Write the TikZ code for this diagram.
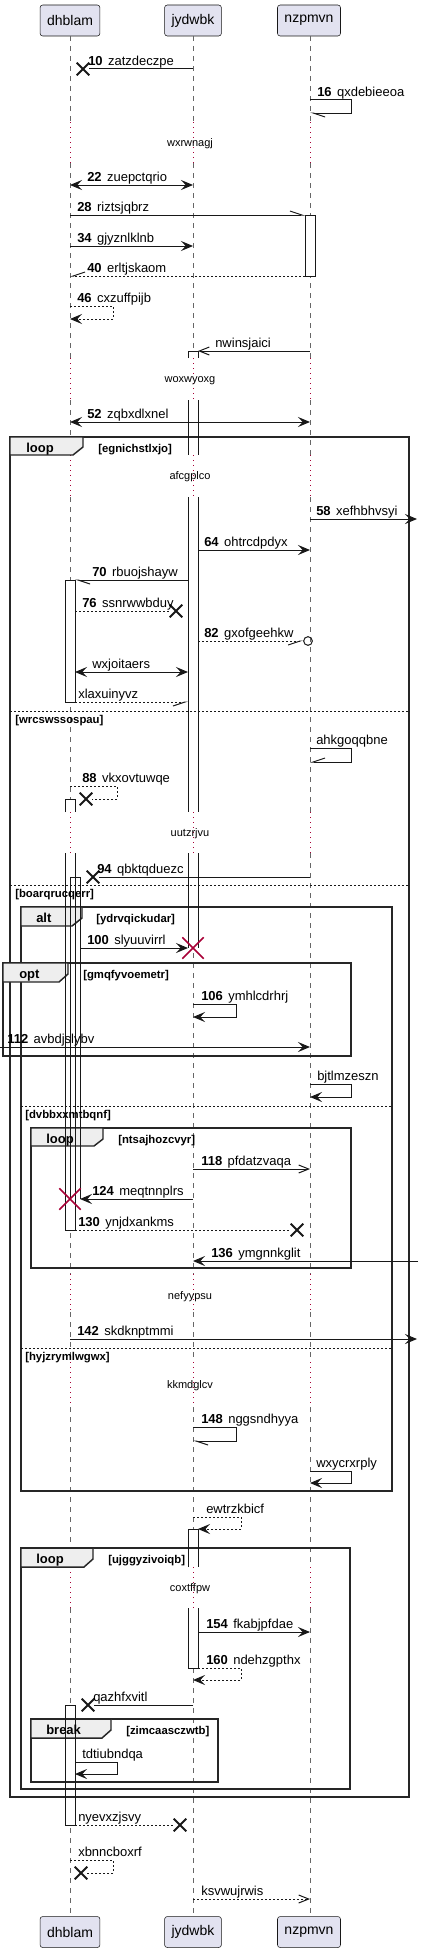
\documentclass[tikz,border=0pt]{standalone}
\usepackage{fontspec}
\setmainfont{Liberation Sans}
\usepackage{tikz}
\usetikzlibrary{arrows.meta,shapes.misc}
\definecolor{ptfill}{HTML}{E2E2F0}
\definecolor{tabgray}{HTML}{EEEEEE}
\definecolor{killred}{HTML}{A80036}
\definecolor{ink}{HTML}{181818}
\newcommand{\seqno}[1]{\textbf{#1}\hspace{4pt}}
\tikzstyle{actor}=[draw=ink,fill=ptfill,rounded corners=2pt,inner xsep=5.25pt,inner ysep=0pt,minimum height=23.25pt,font=\fontsize{10.5}{12}\selectfont]
\tikzstyle{life}=[draw=black!60,line width=0.75pt,dash pattern=on 3.75pt off 3.75pt]
\tikzstyle{delayline}=[draw=killred,line width=0.75pt,dash pattern=on 0.75pt off 3pt]
\tikzstyle{msg}=[draw=ink,line width=0.75pt]
\tikzstyle{reply}=[msg,dash pattern=on 1.5pt off 1.5pt]
\tikzstyle{full}=[-{Stealth[length=9pt,width=7.5pt,inset=3.5pt]}]
\tikzstyle{both}=[{Stealth[length=9pt,width=7.5pt,inset=3.5pt]}-{Stealth[length=9pt,width=7.5pt,inset=3.5pt]}]
\tikzstyle{open}=[-{Straight Barb[length=7.5pt,width=6pt]}]
\tikzstyle{halfl}=[-{Straight Barb[left,length=9pt,width=6pt]}]
\tikzstyle{halfr}=[-{Straight Barb[right,length=9pt,width=6pt]}]
\tikzstyle{act}=[draw=ink,line width=0.75pt]
\tikzstyle{lost}=[cross out,draw=ink,line width=1.4pt,minimum size=8pt,inner sep=0pt]
\tikzstyle{kill}=[cross out,draw=killred,line width=1.1pt,minimum size=15pt,inner sep=0pt]
\tikzstyle{frame}=[draw=black!85,line width=1.1pt]
\tikzstyle{tab}=[frame,fill=tabgray]
\tikzstyle{divider}=[draw=ink,line width=0.75pt,dash pattern=on 1.5pt off 1.5pt]
\tikzstyle{lbl}=[anchor=base west,inner sep=0pt,font=\fontsize{9.75}{11}\selectfont]
\tikzstyle{tabtxt}=[anchor=base west,inner sep=0pt,font=\fontsize{9.75}{11}\selectfont\bfseries]
\tikzstyle{cond}=[anchor=base west,inner sep=0pt,font=\fontsize{8.5}{10}\selectfont\bfseries]
\tikzstyle{delaytxt}=[inner sep=0pt,font=\fontsize{8.25}{10}\selectfont]

\begin{document}
\begin{tikzpicture}[x=0.75pt,y=-0.75pt]
	\useasboundingbox (0,0) rectangle (423,1952);

	\node[actor] (dh) at (70,20.5) {dhblam};
	\node[actor] (jy) at (193,20.5) {jydwbk};
	\node[actor] (nz) at (309,20.5) {nzpmvn};
	\node[actor] (dhb) at (70,1932) {dhblam};
	\node[actor] (jyb) at (193,1932) {jydwbk};
	\node[actor] (nzb) at (309,1932) {nzpmvn};

	% lifelines, dotted where a delay is
	\foreach \x in {70,193,310} {
		\foreach \a/\b in {36/122,163/358,400/455,497/812,853/1274,1312/1362,1407/1567,1608/1917}
			\draw[life] (\x,\a) -- (\x,\b);
		\foreach \a/\b in {122/163,358/400,455/497,812/853,1274/1312,1362/1407,1567/1608}
			\draw[delayline] (\x,\a) -- (\x,\b);
	}
	\node[delaytxt] (d1) at (190,144) {wxrwnagj};
	\node[delaytxt] (d2) at (190,381) {woxwyoxg};
	\node[delaytxt] (d3) at (190,477) {afcgplco};
	\node[delaytxt] (d4) at (190,834) {uutzrjvu};
	\node[delaytxt] (d5) at (190,1297) {nefyypsu};
	\node[delaytxt] (d6) at (190,1386) {kkmdglcv};
	\node[delaytxt] (d7) at (190,1589) {coxtffpw};

	% activation bodies
	\fill[white] (305,215) rectangle (315,276);
	\fill[white] (188,351) rectangle (198,358);
	\fill[white] (188,400) rectangle (198,455);
	\fill[white] (188,497) rectangle (198,812);
	\fill[white] (188,853) rectangle (198,948);
	\fill[white] (65,580) rectangle (75,702);
	\fill[white] (65,799) rectangle (75,812);
	\fill[white] (65,853) rectangle (75,1230);
	\fill[white] (188,1529) rectangle (198,1567);
	\fill[white] (188,1608) rectangle (198,1668);
	\fill[white] (65,1705) rectangle (75,1825);

	% groups
	\draw[frame] (10,437) rectangle (409,1797);
	\draw[tab] (10,437) -- (83,437) -- (83,447) -- (73,455) -- (10,455) -- cycle;
	\draw[divider] (10,711) -- (409,711);
	\draw[divider] (10,885) -- (409,885);

	\draw[frame] (21,907) rectangle (392,1491);
	\draw[tab] (21,907) -- (82,907) -- (82,918) -- (72,926) -- (21,926) -- cycle;
	\draw[divider] (21,1106) -- (392,1106);
	\draw[divider] (21,1348) -- (392,1348);

	\draw[frame] (3,963) rectangle (351,1056);
	\draw[tab] (3,963) -- (68,963) -- (68,974) -- (59,982) -- (3,982) -- cycle;

	\draw[frame] (31,1128) rectangle (351,1268);
	\draw[tab] (31,1128) -- (103,1128) -- (103,1139) -- (94,1146) -- (31,1146) -- cycle;

	\draw[frame] (21,1548) rectangle (350,1789);
	\draw[tab] (21,1548) -- (93,1548) -- (93,1559) -- (84,1567) -- (21,1567) -- cycle;

	\draw[frame] (31,1719) rectangle (218,1782);
	\draw[tab] (31,1719) -- (111,1719) -- (111,1730) -- (102,1738) -- (31,1738) -- cycle;

	% activation outlines
	\draw[act] (305,215) rectangle (315,276);
	\draw[act] (188,358) -- (188,351) -- (198,351) -- (198,358);
	\draw[act] (188,400) -- (188,455) (198,400) -- (198,455)
		(188,497) -- (188,812) (198,497) -- (198,812)
		(188,853) -- (188,948) (198,853) -- (198,948);
	\draw[act] (65,580) rectangle (75,702);
	\draw[act] (65,812) -- (65,799) -- (75,799) -- (75,812);
	\draw[act] (65,853) -- (65,1230) -- (75,1230) -- (75,853);
	\draw[act] (70,1199) -- (70,877) -- (80,877) -- (80,1199);
	\draw[act] (188,1567) -- (188,1529) -- (198,1529) -- (198,1567);
	\draw[act] (188,1608) -- (188,1668) -- (198,1668) -- (198,1608);
	\draw[act] (65,1705) rectangle (75,1825);

	% group texts
	\node[tabtxt] (g1) at (26,452) {loop};
	\node[cond] (c1) at (98,452) {[egnichstlxjo]};
	\node[cond] (c1a) at (15,723.5) {[wrcswssospau]};
	\node[cond] (c1b) at (15,897.5) {[boarqrucqerr]};
	\node[tabtxt] (g2) at (36,922) {alt};
	\node[cond] (c2) at (96,922) {[ydrvqickudar]};
	\node[cond] (c2a) at (25,1118.5) {[dvbbxxmtbqnf]};
	\node[cond] (c2b) at (25,1360.5) {[hyjzrymlwgwx]};
	\node[tabtxt] (g3) at (19,978) {opt};
	\node[cond] (c3) at (83,978) {[gmqfyvoemetr]};
	\node[tabtxt] (g4) at (46,1143) {loop};
	\node[cond] (c4) at (118,1143) {[ntsajhozcvyr]};
	\node[tabtxt] (g5) at (36,1563) {loop};
	\node[cond] (c5) at (108,1563) {[ujggyzivoiqb]};
	\node[tabtxt] (g6) at (46,1734) {break};
	\node[cond] (c6) at (126,1734) {[zimcaasczwtb]};

	% messages
	\node[lost] (x10) at (83,69) {};
	\draw[msg] (193,69) -- (x10);
	\node[lbl] (l10) at (88,65) {\seqno{10}zatzdeczpe};

	\draw[msg,halfl] (310,100) -- (351,100) -- (351,113) -- (310,113);
	\node[lbl] (l16) at (317,96) {\seqno{16}qxdebieeoa};

	\draw[msg,both] (70,185) -- (193,185);
	\node[lbl] (l22) at (87,181) {\seqno{22}zuepctqrio};

	\draw[msg,halfl] (70,215) -- (305,215);
	\node[lbl] (l28) at (77,211) {\seqno{28}riztsjqbrz};

	\draw[msg,full] (70,246) -- (193,246);
	\node[lbl] (l34) at (77,242) {\seqno{34}gjyznlklnb};

	\draw[reply,halfr] (305,276) -- (70,276);
	\node[lbl] (l40) at (87,272) {\seqno{40}erltjskaom};

	\draw[reply,full] (70,306) -- (113,306) -- (113,319) -- (70,319);
	\node[lbl] (l46) at (77,302) {\seqno{46}cxzuffpijb};

	\draw[msg,open] (310,351) -- (198,351);
	\node[lbl] (lnw) at (215,347) {nwinsjaici};

	\draw[msg,both] (70,422) -- (310,422);
	\node[lbl] (l52) at (87,418) {\seqno{52}zqbxdlxnel};

	\draw[msg,full] (310,519) -- (417,519);
	\node[lbl] (l58) at (316,515) {\seqno{58}xefhbhvsyi};

	\draw[msg,full] (198,550) -- (310,550);
	\node[lbl] (l64) at (204,546) {\seqno{64}ohtrcdpdyx};

	\draw[msg,halfl] (188,580) -- (75,580);
	\node[lbl] (l70) at (92,576) {\seqno{70}rbuojshayw};

	\node[lost] (x76) at (176,611) {};
	\draw[reply] (75,611) -- (x76);
	\node[lbl] (l76) at (82,607) {\seqno{76}ssnrwwbduy};

	\node[circle,draw=ink,line width=0.75pt,minimum size=6.5pt,inner sep=0pt] (o82) at (308,641) {};
	\draw[reply,halfr] (198,641) -- (o82);
	\node[lbl] (l82) at (204,637) {\seqno{82}gxofgeehkw};

	\draw[msg,both] (75,672) -- (188,672);
	\node[lbl] (lwx) at (92,668) {wxjoitaers};

	\draw[reply,halfr] (75,702) -- (188,702);
	\node[lbl] (lxl) at (78,698) {xlaxuinyvz};

	\draw[msg,halfr] (310,748) -- (351,748) -- (351,762) -- (310,762);
	\node[lbl] (lah) at (316,744) {ahkgoqqbne};

	\node[lost] (x88) at (86,799) {};
	\draw[reply] (70,786) -- (117,786) -- (117,799) -- (x88);
	\node[lbl] (l88) at (82,782) {\seqno{88}vkxovtuwqe};

	\node[lost] (x94) at (93,877) {};
	\draw[msg] (310,877) -- (x94);
	\node[lbl] (l94) at (97,873) {\seqno{94}qbktqduezc};

	\draw[msg,full] (81,948) -- (188,948);
	\node[kill] (k100) at (193,948) {};
	\node[lbl] (l100) at (87,944) {\seqno{100}slyuuvirrl};

	\draw[msg,full] (193,1004) -- (236,1004) -- (236,1017) -- (193,1017);
	\node[lbl] (l106) at (201,1000) {\seqno{106}ymhlcdrhrj};

	\draw[msg,full] (0,1047) -- (310,1047);
	\node[lbl] (l112) at (7,1043) {\seqno{112}avbdjslybv};

	\draw[msg,full] (310,1084) -- (351,1084) -- (351,1097) -- (310,1097);
	\node[lbl] (lbj) at (317,1080) {bjtlmzeszn};

	\draw[msg,open] (193,1169) -- (310,1169);
	\node[lbl] (l118) at (201,1165) {\seqno{118}pfdatzvaqa};

	\draw[msg,full] (193,1199) -- (80,1199);
	\node[kill] (k124) at (70,1199) {};
	\node[lbl] (l124) at (92,1195) {\seqno{124}meqtnnplrs};

	\node[lost] (x130) at (297,1230) {};
	\draw[reply] (75,1230) -- (x130);
	\node[lbl] (l130) at (78,1226) {\seqno{130}ynjdxankms};

	\draw[msg,full] (418,1261) -- (193,1261);
	\node[lbl] (l136) at (211,1257) {\seqno{136}ymgnnkglit};

	\draw[msg,full] (70,1339) -- (417,1339);
	\node[lbl] (l142) at (77,1335) {\seqno{142}skdknptmmi};

	\draw[msg,halfl] (193,1427) -- (236,1427) -- (236,1441) -- (193,1441);
	\node[lbl] (l148) at (201,1423) {\seqno{148}nggsndhyya};

	\draw[msg,full] (310,1471) -- (351,1471) -- (351,1483) -- (310,1483);
	\node[lbl] (lwy) at (316,1467) {wxycrxrply};

	\draw[reply,full] (193,1517) -- (241,1517) -- (241,1529) -- (198,1529);
	\node[lbl] (lew) at (206,1513) {ewtrzkbicf};

	\draw[msg,full] (198,1632) -- (310,1632);
	\node[lbl] (l154) at (206,1628) {\seqno{154}fkabjpfdae};

	\draw[reply,full] (198,1668) -- (241,1668) -- (241,1680) -- (193,1680);
	\node[lbl] (l160) at (206,1664) {\seqno{160}ndehzgpthx};

	\node[lost] (xqa) at (88,1705) {};
	\draw[msg] (193,1705) -- (xqa);
	\node[lbl] (lqa) at (93,1701) {qazhfxvitl};

	\draw[msg,full] (75,1762) -- (117,1762) -- (117,1774) -- (75,1774);
	\node[lbl] (ltd) at (82,1758) {tdtiubndqa};

	\node[lost] (xny) at (180,1825) {};
	\draw[reply] (75,1825) -- (xny);
	\node[lbl] (lny) at (78,1821) {nyevxzjsvy};

	\node[lost] (xxb) at (81,1873) {};
	\draw[reply] (70,1860) -- (113,1860) -- (113,1873) -- (xxb);
	\node[lbl] (lxb) at (78,1856) {xbnncboxrf};

	\draw[reply,open] (193,1899) -- (310,1899);
	\node[lbl] (lks) at (201,1895) {ksvwujrwis};

\end{tikzpicture}
\end{document}
